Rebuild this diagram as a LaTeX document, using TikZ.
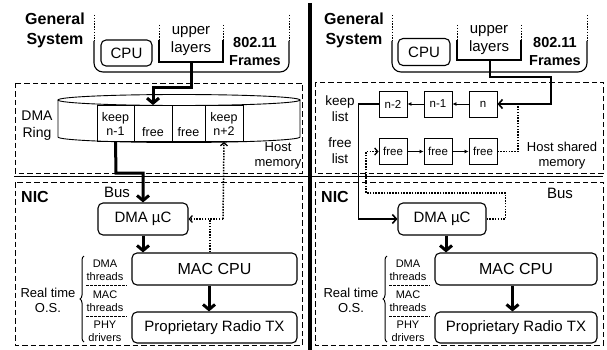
\documentclass[tikz,border=0pt]{standalone}
\usepackage{fontspec}
\setmainfont{Liberation Sans}
\usetikzlibrary{arrows.meta,decorations.pathreplacing}
\newcommand\fsz[1]{\fontsize{#1}{#1}\selectfont}
\begin{document}
\begin{tikzpicture}[x=1pt,y=-1pt,
  box/.style={draw, rounded corners=5pt, line width=1.1pt, inner sep=0pt, fill=white, font=\fsz{15}},
  cell/.style={draw, line width=0.9pt, inner sep=0pt, align=center, font=\fsz{12.5}},
  lbox/.style={draw, line width=0.9pt, inner sep=0pt, minimum width=28pt, minimum height=26pt, font=\fsz{11.5}},
  txt/.style={inner sep=0pt, align=center},
  title/.style={txt, font=\bfseries\fsz{16}},
  zone/.style={line width=0.9pt, dash pattern=on 5.5pt off 3pt},
  dotline/.style={line width=1.5pt, dash pattern=on 1.5pt off 1.3pt},
  heavy/.style={line width=3pt, -{Straight Barb[length=5pt,width=12pt]}},
  medium/.style={line width=1.6pt, -{Straight Barb[length=4pt,width=9pt]}},
  light/.style={line width=0.9pt, -{Latex[length=4pt,width=4pt]}},
  dotarrow/.style={dotline, -{Straight Barb[length=3pt,width=7pt,line width=1.3pt]}},
  rtos/.style={txt, font=\fsz{11}},
  frame/.style={line width=1.1pt, rounded corners=9pt},
  layer/.style={line width=2.5pt}]
\useasboundingbox (0,0) rectangle (607,350);

% ---------- panel separator and bus line ----------
\draw[line width=4pt] (310,3) -- (310,350);
\draw[line width=0.9pt] (14,176) -- (603,176);

% =================== left: DMA ring ===================
\node[title] (gsA) at (55,30) {General\\[4pt]System};
\draw[dotline, line width=1pt] (94,15) -- (94,41);
\draw[dotline, line width=1pt] (289,15) -- (289,41);
\draw[frame] (94,41) -- (94,72) -- (289,72) -- (289,41);
\node[box, minimum width=51pt, minimum height=26pt] (cpuA) at (126.5,53) {CPU};
\draw[dotline, line width=1pt] (159,25) -- (159,40);
\draw[dotline, line width=1pt] (223,25) -- (223,40);
\draw[layer] (159,40) -- (159,62) -- (223,62) -- (223,40);
\node[txt, font=\fsz{15}] (upA) at (191,41) {upper\\[3pt]layers};
\coordinate (ulA) at (191,62);
\node[title, font=\bfseries\fsz{14.5}] (frmA) at (255,52) {802.11\\[3.5pt]Frames};

\draw[zone] (15,83) rectangle (302,173);
\node[txt, font=\fsz{14}] (ringT) at (37,126) {DMA\\[3pt]Ring};
\node[txt, font=\fsz{13}] (hmA) at (278,155.5) {Host\\[2pt]memory};

% ring body
\draw[line width=0.9pt, fill=white] (58,100) -- (58,137)
  arc[start angle=180, end angle=0, x radius=121, y radius=5.5] -- (300,100);
\draw[line width=0.9pt] (179,100) ellipse[x radius=121, y radius=5.5];
\node[cell, minimum width=37pt, minimum height=36pt] (kp1) at (115.5,123.5) {keep\\[1.5pt]n-1};
\node[cell, minimum width=38pt, minimum height=36pt] (fr1) at (153,123.5) {};
\node[cell, minimum width=33pt, minimum height=36pt] (fr2) at (188.5,123.5) {};
\node[cell, minimum width=38pt, minimum height=36pt] (kp2) at (224,123.5) {keep\\[1.5pt]n+2};
\node[txt, font=\fsz{12.5}] (fr1t) at (153,132) {free};
\node[txt, font=\fsz{12.5}] (fr2t) at (188.5,132) {free};

\draw[heavy] (ulA) -- ++(0,26) -| (fr1.north);

% NIC
\draw[zone] (15,182) rectangle (302,345);
\node[title, anchor=west] (nicA) at (21,197) {NIC};
\node[txt, font=\fsz{15}] (busA) at (117,192) {Bus};
\node[box, minimum width=90pt, minimum height=32pt] (dmaA) at (143,219) {DMA µC};
\node[box, minimum width=165pt, minimum height=32pt, font=\fsz{16}] (macA) at (214.5,269) {MAC CPU};
\node[box, minimum width=165pt, minimum height=31pt] (radA) at (214.5,327.5) {Proprietary Radio TX};

\draw[heavy] (kp1.south) -- (116,173) -| (dmaA.north);
\draw[heavy] (dmaA.south) -- (dmaA.south |- macA.north);
\draw[heavy] ([xshift=-5.5pt]macA.south) -- ([xshift=-5.5pt]radA.north);

\coordinate (jA) at (223,219);
\draw[dotarrow] (jA) -- (dmaA.east);
\draw[dotarrow] (jA) -- (kp2.south);
\draw[dotline] ([xshift=-4.5pt]macA.north) -- ([xshift=-4.5pt]macA.north |- jA);

% real time OS
\node[txt, font=\fsz{13}] (osA) at (48,300) {Real time\\[2pt]O.S.};
\draw[line width=1pt, decorate, decoration={brace, amplitude=4pt}] (84,342) -- (84,256);
\node[rtos] (t1A) at (105,270) {DMA\\[2pt]threads};
\node[rtos] (t2A) at (105,301) {MAC\\[2pt]threads};
\node[rtos] (t3A) at (105,331) {PHY\\[2pt]drivers};
\draw[line width=0.8pt, dash pattern=on 2.5pt off 1.5pt] (86,285) -- (127,285);
\draw[line width=0.8pt, dash pattern=on 2.5pt off 1.5pt] (86,316) -- (127,316);

% =================== right: keep / free lists ===================
\node[title] (gsB) at (354,30) {General\\[4pt]System};
\draw[dotline, line width=1pt] (392,15) -- (392,41);
\draw[dotline, line width=1pt] (587,15) -- (587,41);
\draw[frame] (392,41) -- (392,72) -- (587,72) -- (587,41);
\node[box, minimum width=52pt, minimum height=27pt] (cpuB) at (424,52) {CPU};
\draw[dotline, line width=1pt] (457,25) -- (457,40);
\draw[dotline, line width=1pt] (521,25) -- (521,40);
\draw[layer] (457,40) -- (457,60) -- (521,60) -- (521,40);
\node[txt, font=\fsz{15}] (upB) at (489,40) {upper\\[3pt]layers};
\coordinate (ulB) at (490,60);
\node[title, font=\bfseries\fsz{14.5}] (frmB) at (555,52) {802.11\\[3.5pt]Frames};

\draw[zone] (315,82) rectangle (603,173);
\node[txt, font=\fsz{13.5}] (klB) at (340,109) {keep\\[2.5pt]list};
\node[txt, font=\fsz{13.5}] (flB) at (340,151) {free\\[2.5pt]list};
\node[txt, font=\fsz{13}] (hsB) at (562,155.5) {Host shared\\[2pt]memory};

\node[lbox] (n2B) at (393,104) {n-2};
\node[lbox] (n1B) at (438,104) {n-1};
\node[lbox] (n0B) at (483,104) {n};
\node[lbox] (f1B) at (393,151.5) {free};
\node[lbox] (f2B) at (438,151.5) {free};
\node[lbox] (f3B) at (483,151.5) {free};
\draw[light] (n0B) -- (n1B);
\draw[light] (n1B) -- (n2B);
\draw[light] (f1B) -- (f2B);
\draw[light] (f2B) -- (f3B);

\coordinate (frB) at (551,77);
\coordinate (tB) at (518,104);
\draw[medium] (ulB) |- (frB) |- (n0B.east);
\draw[dotline] (f3B.east) -| (tB);

% NIC
\draw[zone] (315,182) rectangle (603,345);
\node[title, anchor=west] (nicB) at (321,197) {NIC};
\node[txt, font=\fsz{15}] (busB) at (560,193) {Bus};
\node[box, minimum width=88pt, minimum height=32pt] (dmaB) at (442,219) {DMA µC};
\node[box, minimum width=162pt, minimum height=32pt, font=\fsz{16}] (macB) at (516,269) {MAC CPU};
\node[box, minimum width=162pt, minimum height=31pt] (radB) at (516,327.5) {Proprietary Radio TX};

\draw[medium] (n2B.west) -- ++(-20,0) |- (dmaB.west);
\draw[dotarrow] (dmaB.east) -- ++(19,0) -- ++(0,-26) -- (366,193) -- (366,151.5) -- (f1B.west);
\draw[heavy] ([xshift=4pt]dmaB.south) -- ([xshift=4pt]dmaB.south |- macB.north);
\draw[heavy] ([xshift=-3.5pt]macB.south) -- ([xshift=-3.5pt]radB.north);

% real time OS
\node[txt, font=\fsz{13}] (osB) at (351,300) {Real time\\[2pt]O.S.};
\draw[line width=1pt, decorate, decoration={brace, amplitude=4pt}] (387,342) -- (387,256);
\node[rtos] (t1B) at (408,270) {DMA\\[2pt]threads};
\node[rtos] (t2B) at (408,301) {MAC\\[2pt]threads};
\node[rtos] (t3B) at (408,331) {PHY\\[2pt]drivers};
\draw[line width=0.8pt, dash pattern=on 2.5pt off 1.5pt] (389,285) -- (430,285);
\draw[line width=0.8pt, dash pattern=on 2.5pt off 1.5pt] (389,316) -- (430,316);
\end{tikzpicture}
\end{document}
